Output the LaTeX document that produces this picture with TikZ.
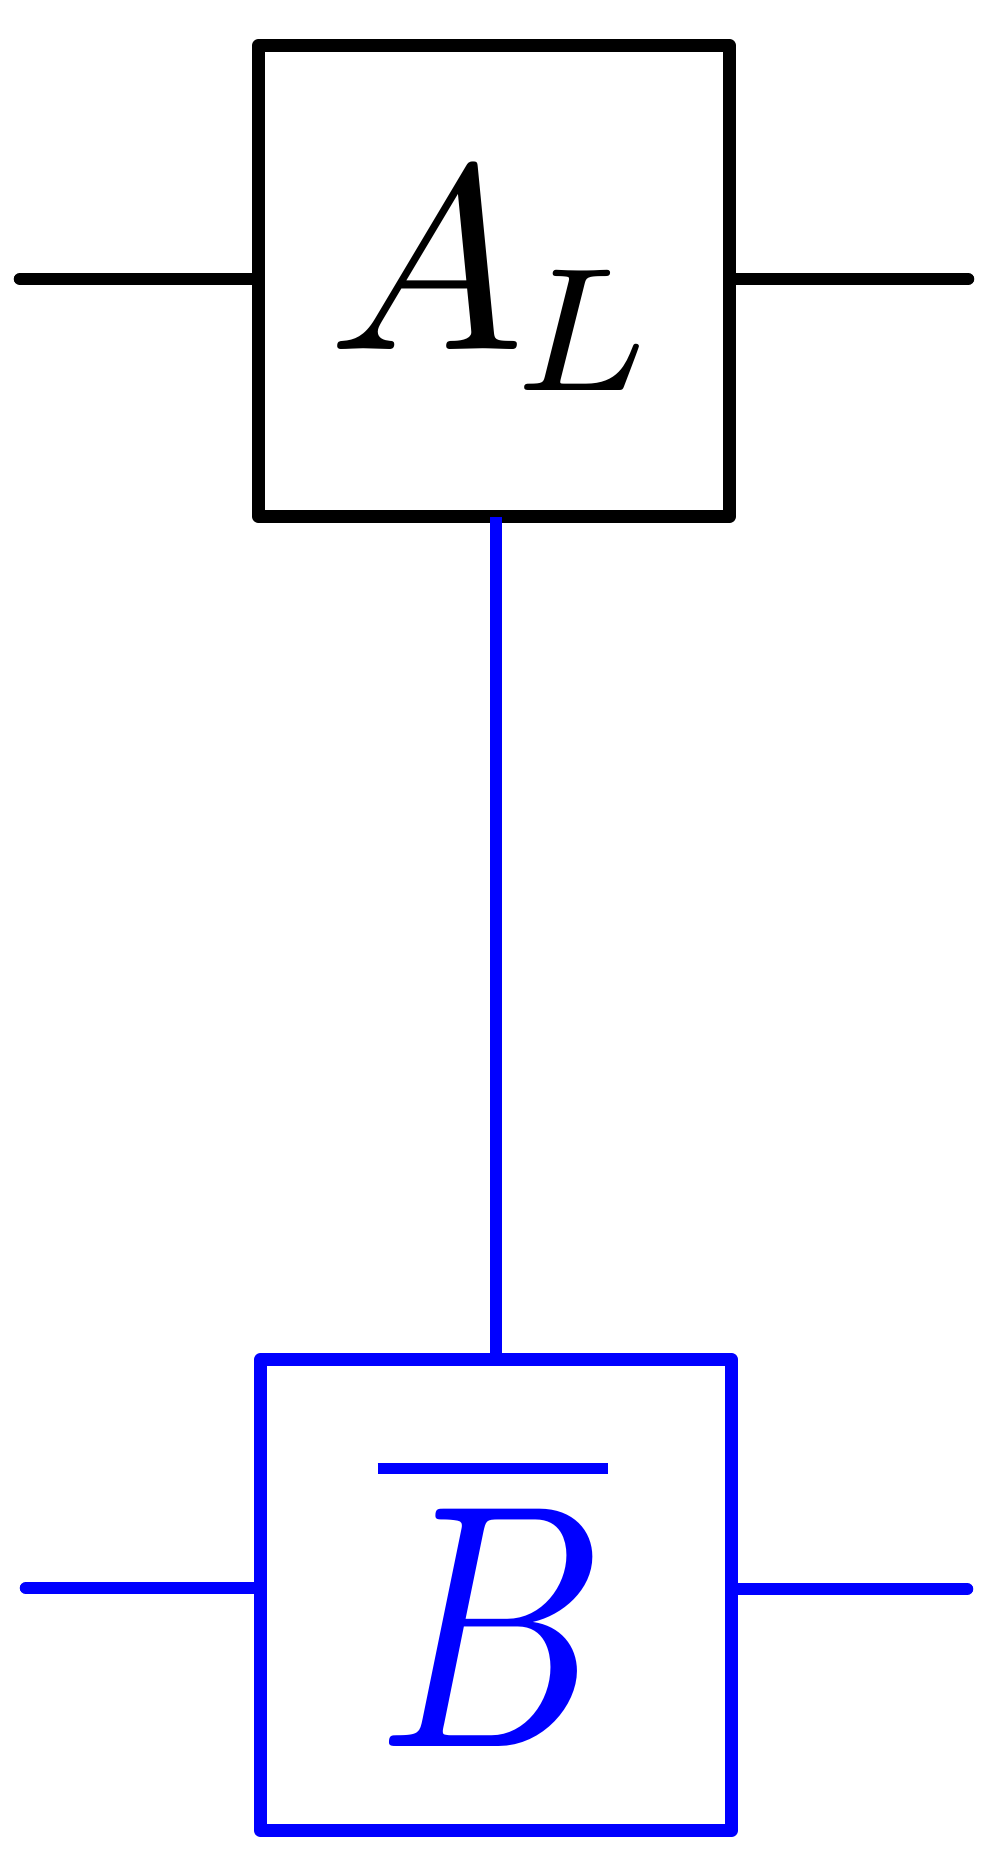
\documentclass[tikz,border=0pt]{standalone}
\usepackage{graphicx}
\begin{document}
\begin{tikzpicture}[x=0.01cm,y=-0.01cm,
  wire/.style={line width=0.125cm,line cap=round,line join=round},
  tensorbox/.style={draw,line width=0.125cm,line join=round,minimum size=4.71cm,inner sep=0,outer sep=0},
  lbl/.style={inner sep=0,outer sep=0,anchor=base west}]
\useasboundingbox (0,0) rectangle (1000,1869);
\node[tensorbox] (A) at (494,281) {};
\node[tensorbox,draw=blue] (B) at (496,1595) {};
\coordinate (a1) at (20,279);
\coordinate (a2) at (968,279);
\coordinate (b1) at (26,1588);
\coordinate (b2) at (967,1589);
\draw[wire] (A.west |- a1) -- (a1);
\draw[wire] (A.east |- a2) -- (a2);
\draw[wire,blue] (B.west |- b1) -- (b1);
\draw[wire,blue] (B.east |- b2) -- (b2);
\draw[wire,blue,line cap=butt] (B.north) -- (B.north |- A.south);
\node[lbl] (tA) at (328,349) {\scalebox{7.45}{$A_{\mkern-1mu\raisebox{-0.1pt}{\scalebox{0.96}{$\scriptstyle L$}}}$}};
\node[lbl,text=blue] (tB) at (377.7,1746) {\scalebox{8.1}{$\overline{\scalebox{1}[1.22]{$B$}}$}};
\end{tikzpicture}
\end{document}
